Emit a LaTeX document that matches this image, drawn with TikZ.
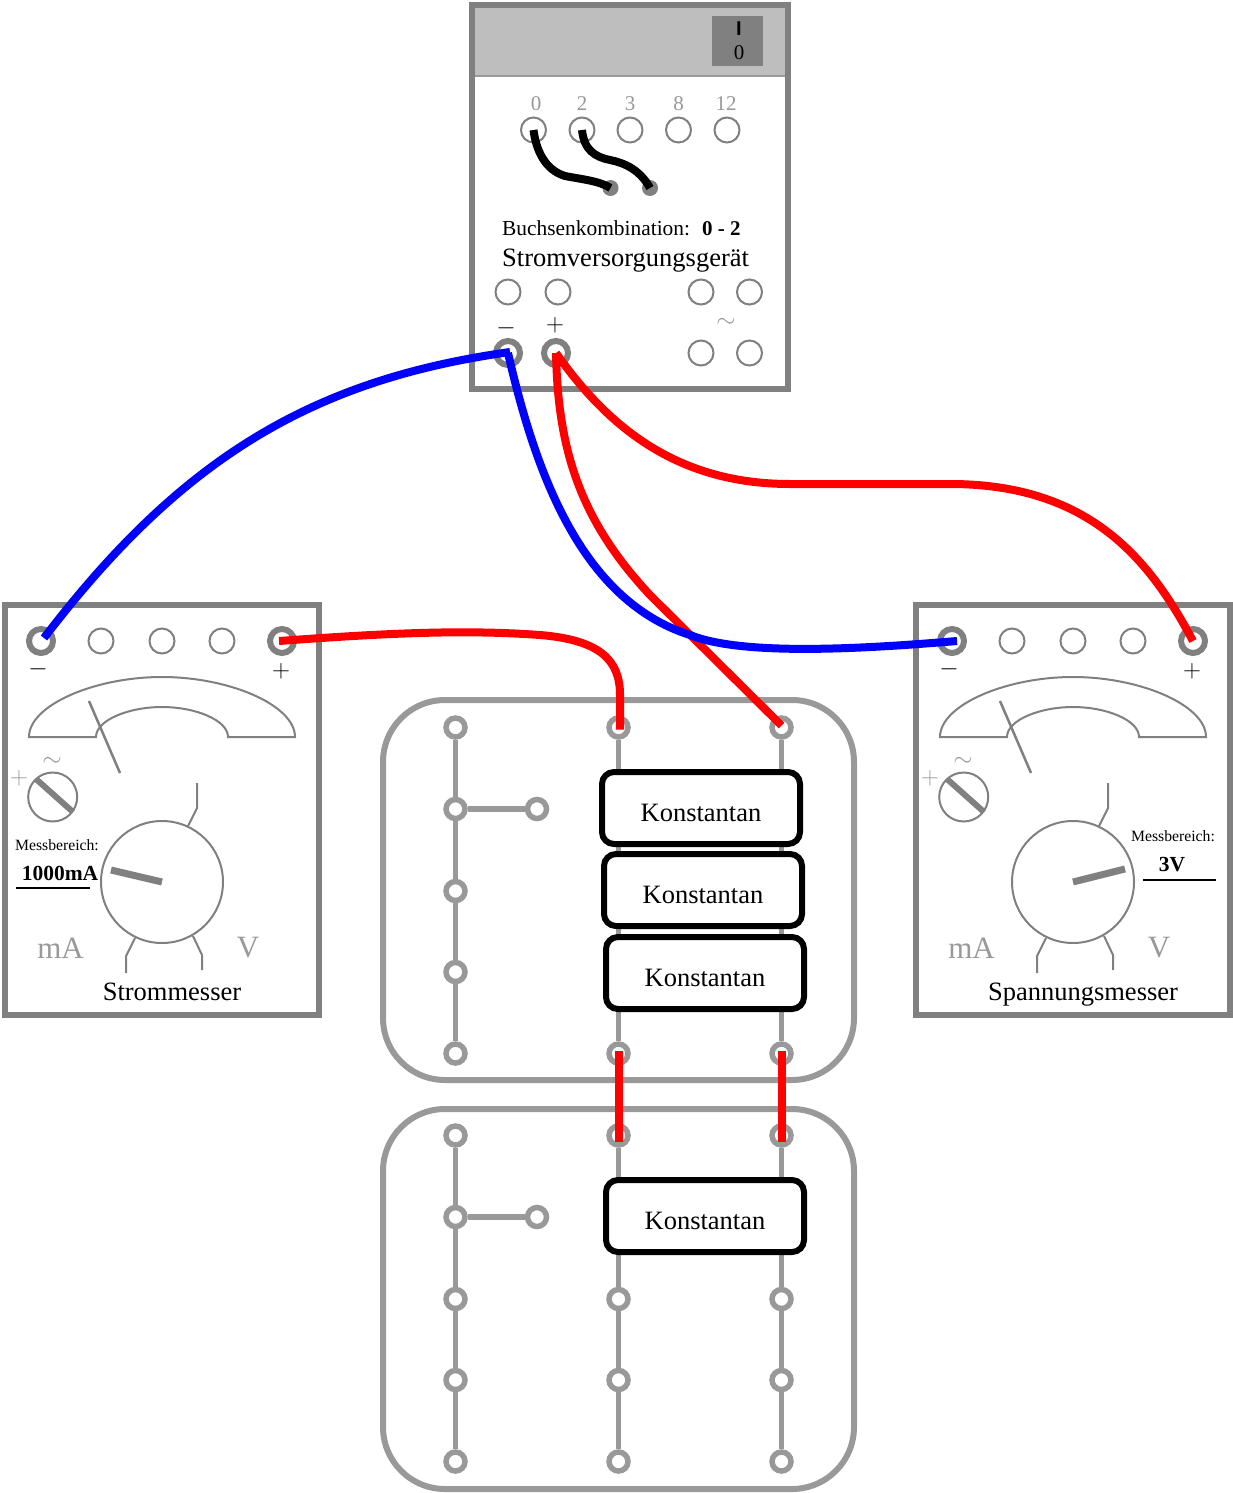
\documentclass[tikz,border=0pt]{standalone}
\usepackage{fontspec}
\setmainfont{Liberation Serif}
\setsansfont{Liberation Sans}
\definecolor{frameg}{HTML}{808080}
\definecolor{boardg}{HTML}{999999}
\definecolor{headg}{HTML}{BEBEBE}
\begin{document}
\begin{tikzpicture}[
    x=1pt, y=-1pt,
    device/.style={rectangle, draw=frameg, line width=6pt, fill=white, minimum width=314pt, minimum height=410pt},
    jack/.style={circle, draw=frameg, line width=2pt, inner sep=0pt, minimum size=25pt},
    bigjack/.style={circle, draw=frameg, line width=6pt, inner sep=0pt, minimum size=24pt},
    plug/.style={circle, fill=frameg, inner sep=0pt, minimum size=16pt},
    board/.style={rectangle, draw=boardg, line width=6pt, rounded corners=62pt, minimum width=471pt, minimum height=380pt},
    hole/.style={circle, draw=boardg, line width=5.5pt, fill=white, inner sep=0pt, minimum size=19pt},
    rail/.style={draw=boardg, line width=5.5pt},
    box/.style={rectangle, draw=black, line width=6pt, fill=white, rounded corners=12pt, minimum width=198pt, minimum height=72pt, text height=27pt, font=\fontsize{26.5}{30}\selectfont},
    bigtext/.style={font=\fontsize{26.5}{30}\selectfont},
    smalltext/.style={font=\fontsize{15.7}{18}\selectfont},
    rangeval/.style={font=\fontsize{21.5}{24}\selectfont\bfseries},
    socketno/.style={text=boardg, font=\fontsize{21}{24}\selectfont},
    unitname/.style={text=boardg, font=\fontsize{31}{34}\selectfont},
    signtext/.style={font=\fontsize{26}{28}\selectfont},
    gline/.style={draw=frameg, line width=2pt},
    wire/.style={line width=8pt},
    jumper/.style={draw=black, line width=8pt}
]

% Stromversorgungsgeraet
\node[device, minimum width=316pt, minimum height=384pt] (psu) at (630,197) {};
\node[rectangle, fill=headg, inner sep=0pt, minimum width=310pt, minimum height=68pt] (head) at (630,42) {};
\draw[draw=boardg, line width=2pt] (head.south west) -- (head.south east);
\node[rectangle, fill=frameg, inner sep=0pt, minimum width=51pt, minimum height=50pt] (switch) at (737.5,41) {};
\node[font=\fontsize{20}{24}\selectfont\sffamily\bfseries] (swon) at (739,29) {I};
\node[font=\fontsize{21}{24}\selectfont] (swoff) at (739,53) {0};

\node[socketno] (n0) at (536,104) {0};
\node[socketno] (n2) at (582,104) {2};
\node[socketno] (n3) at (630,104) {3};
\node[socketno] (n8) at (678.5,104) {8};
\node[socketno] (n12) at (726,104) {12};
\node[jack] (t0) at (533.5,130) {};
\node[jack] (t2) at (582,130) {};
\node[jack] (t3) at (630,130) {};
\node[jack] (t8) at (678.5,130) {};
\node[jack] (t12) at (727,130) {};
\node[plug] (p1) at (610.5,188) {};
\node[plug] (p2) at (650,188) {};
\draw[jumper] (t0.center) .. controls (536,150) and (545,170) .. (565,176) .. controls (580,179) and (600,181) .. (p1.center);
\draw[jumper] (t2.center) .. controls (584,150) and (595,157) .. (610,160) .. controls (625,163) and (640,170) .. (p2.center);

\node[anchor=base west, inner sep=0pt, font=\fontsize{21.4}{24}\selectfont] (combi) at (502,235) {Buchsenkombination:};
\node[anchor=base west, inner sep=0pt, font=\fontsize{21}{24}\selectfont\bfseries] (combival) at (702,235) {0 - 2};
\node[bigtext, anchor=base west, inner sep=0pt] (psuname) at (502,266) {Stromversorgungsgerät};

\node[jack] (o1) at (508,292) {};
\node[jack] (o2) at (558,292) {};
\node[jack] (o3) at (701,292) {};
\node[jack] (o4) at (749.5,292) {};
\node[jack] (o5) at (701,353) {};
\node[jack] (o6) at (749.5,353) {};
\node[bigjack] (psuminus) at (508,353) {};
\node[bigjack] (psuplus) at (556,353) {};
\node[signtext] (psum) at (506,328) {$-$};
\node[signtext] (psup) at (555,325) {$+$};
\node[signtext, text=boardg] (psuac) at (726,323) {$\sim$};

% Strommesser
\node[device] (amp) at (162,810) {};
\node[bigjack] (ampminus) at (41,641) {};
\node[jack] (a1) at (101,641) {};
\node[jack] (a2) at (162,641) {};
\node[jack] (a3) at (222,641) {};
\node[bigjack] (ampplus) at (282,641) {};
\node[signtext] (ampm) at (38,669) {$-$};
\node[signtext] (ampp) at (281,671) {$+$};
\draw[gline] (29,737) .. controls (29,705) and (95,677) .. (162,677) .. controls (229,677) and (295,705) .. (295,737) -- (228,737)
    .. controls (228,720) and (195,707) .. (162,707) .. controls (129,707) and (96,720) .. (96,737) -- cycle;
\draw[draw=frameg, line width=2.5pt] (89,701) -- (120,773);
\node[circle, draw=frameg, line width=2pt, inner sep=0pt, minimum size=49pt] (ampknob) at (52.7,797) {};
\draw[draw=frameg, line width=6pt] (36,779) -- (73,812);
\node[signtext, text=boardg] (ampkp) at (19,778) {$+$};
\node[signtext, text=boardg] (ampka) at (52,762) {$\sim$};
\node[circle, draw=frameg, line width=2pt, inner sep=0pt, minimum size=122pt] (ampdial) at (162,882) {};
\draw[draw=frameg, line width=7pt] (ampdial.center) -- (111,870);
\draw[gline] (188,826) -- (197,808) -- (197,783);
\draw[gline] (135,938) -- (126,956) -- (126,973);
\draw[gline] (193,936) -- (202,955) -- (202,970);
\node[smalltext] (ampmb) at (57,845) {Messbereich:};
\node[rangeval] (ampval) at (60,873) {1000mA};
\draw[line width=2pt] (16,888) -- (90,888);
\node[unitname] (ampma) at (60.5,948) {mA};
\node[unitname] (ampv) at (248,948) {V};
\node[bigtext, anchor=base] (ampname) at (172,1000) {Strommesser};

% Spannungsmesser
\node[device] (volt) at (1073,810) {};
\node[bigjack] (voltminus) at (952,641) {};
\node[jack] (v1) at (1012,641) {};
\node[jack] (v2) at (1073,641) {};
\node[jack] (v3) at (1133,641) {};
\node[bigjack] (voltplus) at (1193,641) {};
\node[signtext] (voltm) at (949,669) {$-$};
\node[signtext] (voltp) at (1192,671) {$+$};
\draw[gline] (940,737) .. controls (940,705) and (1006,677) .. (1073,677) .. controls (1140,677) and (1206,705) .. (1206,737) -- (1139,737)
    .. controls (1139,720) and (1106,707) .. (1073,707) .. controls (1040,707) and (1007,720) .. (1007,737) -- cycle;
\draw[draw=frameg, line width=2.5pt] (1000,701) -- (1031,773);
\node[circle, draw=frameg, line width=2pt, inner sep=0pt, minimum size=49pt] (voltknob) at (963.7,797) {};
\draw[draw=frameg, line width=6pt] (947,779) -- (984,812);
\node[signtext, text=boardg] (voltkp) at (930,778) {$+$};
\node[signtext, text=boardg] (voltka) at (963,762) {$\sim$};
\node[circle, draw=frameg, line width=2pt, inner sep=0pt, minimum size=122pt] (voltdial) at (1073,882) {};
\draw[draw=frameg, line width=7pt] (voltdial.center) -- (1125,869);
\draw[gline] (1099,826) -- (1108,808) -- (1108,783);
\draw[gline] (1046,938) -- (1037,956) -- (1037,973);
\draw[gline] (1104,936) -- (1113,955) -- (1113,970);
\node[smalltext] (voltmb) at (1173,836) {Messbereich:};
\node[rangeval] (voltval) at (1172,865) {3V};
\draw[line width=2pt] (1143,880) -- (1216,880);
\node[unitname] (voltma) at (971.5,948) {mA};
\node[unitname] (voltv) at (1159,948) {V};
\node[bigtext, anchor=base] (voltname) at (1083,1000) {Spannungsmesser};

% Steckbrett oben
\node[board] (top) at (618.5,890) {};
\node[hole] (a1h) at (455.5,727.5) {};
\node[hole] (a2h) at (455.5,809) {};
\node[hole] (a3h) at (455.5,891) {};
\node[hole] (a4h) at (455.5,972) {};
\node[hole] (a5h) at (455.5,1053.5) {};
\node[hole] (axh) at (537,809) {};
\node[hole] (b1h) at (618.5,727.5) {};
\node[hole] (b5h) at (618.5,1053.5) {};
\node[hole] (c1h) at (781.5,727.5) {};
\node[hole] (c5h) at (781.5,1053.5) {};
\draw[rail] (a1h) -- (a2h) -- (a3h) -- (a4h) -- (a5h);
\draw[rail] (a2h) -- (axh);
\draw[rail] (b1h) -- (b5h);
\draw[rail] (c1h) -- (c5h);
\node[box] (k1) at (701,808) {Konstantan};
\node[box] (k2) at (703,890) {Konstantan};
\node[box] (k3) at (705,973) {Konstantan};

% Steckbrett unten
\node[board] (bottom) at (618.5,1299) {};
\node[hole] (d1h) at (455.5,1135.5) {};
\node[hole] (d2h) at (455.5,1217) {};
\node[hole] (d3h) at (455.5,1299) {};
\node[hole] (d4h) at (455.5,1380) {};
\node[hole] (d5h) at (455.5,1461.5) {};
\node[hole] (dxh) at (537,1217) {};
\node[hole] (e1h) at (618.5,1135.5) {};
\node[hole] (e3h) at (618.5,1299) {};
\node[hole] (e4h) at (618.5,1380) {};
\node[hole] (e5h) at (618.5,1461.5) {};
\node[hole] (f1h) at (781.5,1135.5) {};
\node[hole] (f3h) at (781.5,1299) {};
\node[hole] (f4h) at (781.5,1380) {};
\node[hole] (f5h) at (781.5,1461.5) {};
\draw[rail] (d1h) -- (d2h) -- (d3h) -- (d4h) -- (d5h);
\draw[rail] (d2h) -- (dxh);
\draw[rail] (e1h) -- (e3h) -- (e4h) -- (e5h);
\draw[rail] (f1h) -- (f3h) -- (f4h) -- (f5h);
\node[box] (k4) at (705,1216) {Konstantan};

% Kabel
\draw[wire, red] (psuplus.center) .. controls (558,450) and (580,520) .. (650,595) -- ([yshift=2pt]c1h.center);
\draw[wire, red] (psuplus.center) .. controls (610,430) and (680,484) .. (790,484) -- (950,484) .. controls (1090,484) and (1150,560) .. (voltplus.center);
\draw[wire, red] ([xshift=-3pt]ampplus.center) .. controls (400,632) and (470,630) .. (540,635) .. controls (600,640) and (620,660) .. (620,695) -- ([xshift=1.5pt, yshift=-2pt]b1h.center);
\draw[wire, red] ([xshift=.5pt, yshift=3pt]b5h.center) -- ([xshift=.5pt, yshift=-6pt]e1h.center);
\draw[wire, red] ([xshift=.5pt, yshift=3pt]c5h.center) -- ([xshift=.5pt, yshift=-6pt]f1h.center);
\draw[wire, blue] ([shift={(3pt,3pt)}]ampminus.center) .. controls (180,460) and (310,380) .. ([shift={(2pt,1pt)}]psuminus.center);
\draw[wire, blue] (psuminus.center) .. controls (535,470) and (580,600) .. (690,635) .. controls (740,655) and (850,650) .. ([xshift=5pt]voltminus.center);

\useasboundingbox (0,0) rectangle (1233,1493);
\end{tikzpicture}
\end{document}
